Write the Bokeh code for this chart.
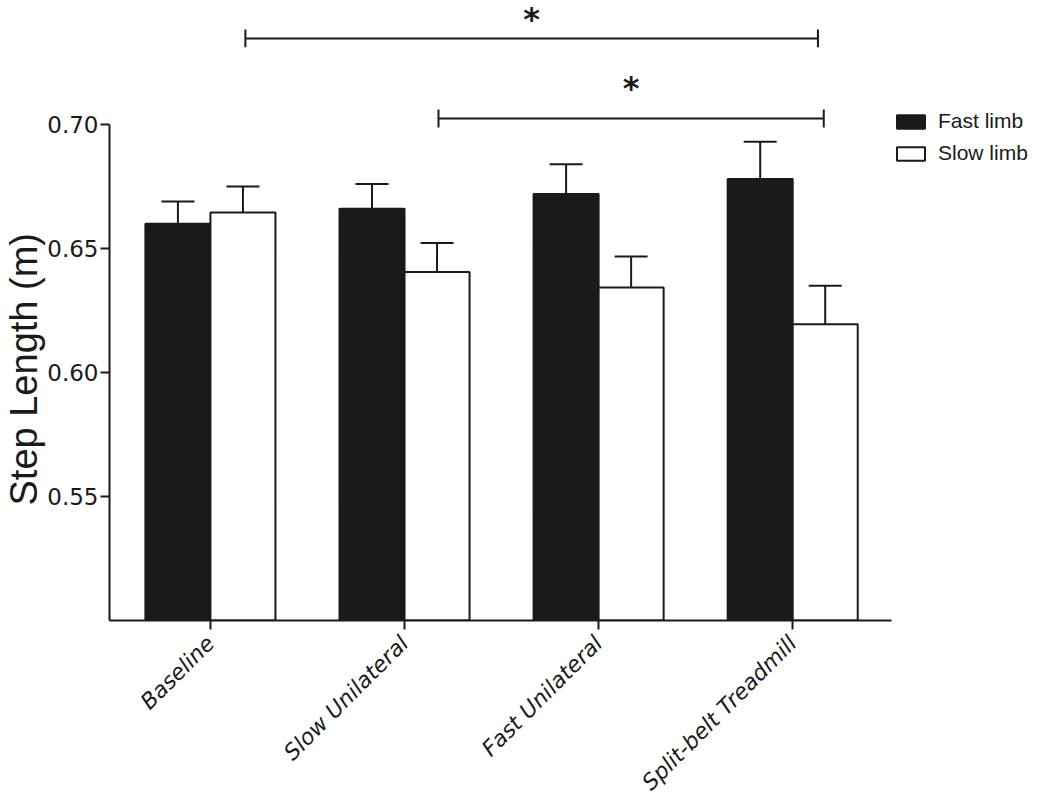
import numpy as np
from bokeh.plotting import figure
from bokeh.models import (ColumnDataSource, Whisker, TeeHead, FixedTicker, Title,
                          Legend, LegendItem, NumeralTickFormatter, Range1d)
from bokeh.embed import file_html
from bokeh.resources import INLINE
from bokeh.core.properties import value

# ---- data ----
conditions = ["Baseline", "Slow Unilateral", "Fast Unilateral", "Split-belt Treadmill"]
fast_mean = [0.660, 0.666, 0.672, 0.678]
fast_sem = [0.009, 0.010, 0.012, 0.015]
slow_mean = [0.6645, 0.6405, 0.6343, 0.6195]
slow_sem = [0.0105, 0.0117, 0.0125, 0.0155]
y_ticks = [0.55, 0.60, 0.65, 0.70]
legend_labels = ["Fast limb", "Slow limb"]
y_label = "Step Length (m)"
# significance brackets (between slow-limb bars)
bracket_start = [0.18, 1.175]
bracket_end = [3.13, 3.16]
bracket_level = [0.7347, 0.7024]
bracket_text = ["*", "*"]

# ---- styling ----
INK = "#1a1a1a"
bw = 0.335
x = np.arange(len(conditions))
star_gap = np.array([0.0078, 0.0125])

src = ColumnDataSource(dict(
    x_fast=x - bw / 2, x_slow=x + bw / 2,
    fast=fast_mean, slow=slow_mean,
    fast_hi=np.array(fast_mean) + np.array(fast_sem),
    slow_hi=np.array(slow_mean) + np.array(slow_sem),
))

W, H = 1045, 810
left, bottom = 108, 190
px_per_unit = 194.3
x_start = -0.52
x_end = x_start + (W - left) / px_per_unit

p = figure(width=W, height=H, x_range=Range1d(x_start, x_end),
           y_range=Range1d(0.5, 0.75), output_backend="svg",
           toolbar_location=None, min_border_left=left, min_border_right=0,
           min_border_top=0, min_border_bottom=bottom)
p.outline_line_color = None
p.xgrid.visible = False
p.ygrid.visible = False
p.background_fill_color = "white"

r_fast = p.vbar(x="x_fast", top="fast", bottom=0.5, width=bw, source=src,
                fill_color=INK, line_color=INK, line_width=2)
r_slow = p.vbar(x="x_slow", top="slow", bottom=0.5, width=bw, source=src,
                fill_color="white", line_color=INK, line_width=2)

for base, lo, hi in [("x_fast", "fast", "fast_hi"), ("x_slow", "slow", "slow_hi")]:
    w = Whisker(base=base, lower=lo, upper=hi, source=src, line_color=INK,
                line_width=2, lower_head=None,
                upper_head=TeeHead(size=33, line_color=INK, line_width=2))
    p.add_layout(w)

# brackets
tick_h = 0.0036
p.segment(x0=bracket_start, x1=bracket_end, y0=bracket_level, y1=bracket_level,
          line_color=INK, line_width=2)
lv = np.array(bracket_level)
p.segment(x0=bracket_start, x1=bracket_start, y0=lv - tick_h, y1=lv + tick_h,
          line_color=INK, line_width=2)
p.segment(x0=bracket_end, x1=bracket_end, y0=lv - tick_h, y1=lv + tick_h,
          line_color=INK, line_width=2)
star_x = (np.array(bracket_start) + np.array(bracket_end)) / 2
p.text(x=star_x, y=lv + star_gap, text=bracket_text, text_font=value("DejaVu Sans"),
       text_font_size="32px", text_font_style="bold", text_align="center",
       text_baseline="middle", text_color=INK)

# axes
p.yaxis.ticker = FixedTicker(ticks=y_ticks)
p.yaxis.formatter = NumeralTickFormatter(format="0.00")
p.yaxis.bounds = (0.5, 0.70)
p.xaxis.bounds = (-0.52, 3.51)
p.xaxis.ticker = FixedTicker(ticks=list(x))
p.xaxis.major_label_overrides = {int(i): c for i, c in zip(x, conditions)}
p.xaxis.major_label_orientation = np.pi / 4
p.xaxis.major_label_text_font_style = "italic"
for ax in (p.xaxis, p.yaxis):
    ax.axis_line_width = 2
    ax.axis_line_color = INK
    ax.major_tick_line_width = 2
    ax.major_tick_line_color = INK
    ax.major_tick_in = 0
    ax.major_tick_out = 9
    ax.minor_tick_line_color = None
    ax.major_label_text_font = "DejaVu Sans"
    ax.major_label_text_color = INK
p.yaxis.major_label_standoff = 2
p.xaxis.major_label_standoff = 10
p.yaxis.major_label_text_font_size = "23px"
p.xaxis.major_label_text_font_size = "22px"

p.add_layout(Title(text=y_label, align="left", offset=115,
                   text_font="Liberation Sans", text_font_size="38px",
                   text_font_style="normal", text_color=INK, standoff=0), "left")

legend = Legend(items=[LegendItem(label=legend_labels[0], renderers=[r_fast]),
                       LegendItem(label=legend_labels[1], renderers=[r_slow])],
                location=(784, 455), glyph_width=35, glyph_height=17,
                label_standoff=10, spacing=8, padding=0, margin=0,
                border_line_color=None, background_fill_alpha=0,
                label_text_font="Liberation Sans", label_text_font_size="21px",
                label_text_color=INK)
p.add_layout(legend)

open("out.html", "w").write(file_html(p, INLINE))
